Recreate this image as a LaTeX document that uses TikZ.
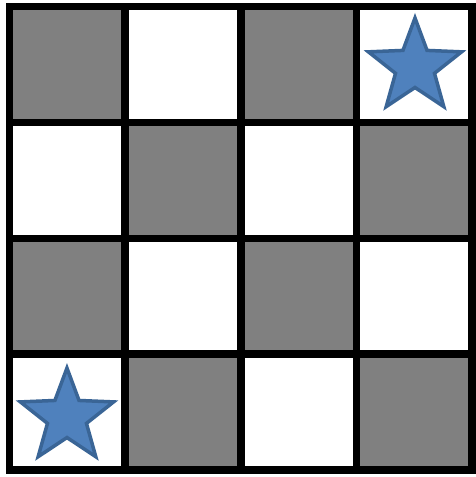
\documentclass[tikz,border=0pt]{standalone}
\usetikzlibrary{shapes.geometric}
\definecolor{cellgray}{HTML}{808080}
\definecolor{starfill}{HTML}{4F81BD}
\definecolor{starline}{HTML}{3A6596}
\tikzset{
  graycell/.style={fill=cellgray, draw=none},
  gridline/.style={draw=black, line width=7.5pt, line join=miter, line cap=rect},
  starmark/.style={fill=starfill, draw=starline, line width=3.5pt, line join=miter}
}
\newcommand{\mystar}[1]{%
  \path[starmark] #1 +(90:49pt)
    -- +(126:20.5pt) -- +(162:49pt) -- +(198:20.5pt) -- +(234:49pt)
    -- +(270:20.5pt) -- +(306:49pt) -- +(342:20.5pt) -- +(18:49pt)
    -- +(54:20.5pt) -- cycle;}
\begin{document}
\begin{tikzpicture}
\fill[white] (0,0) rectangle (475pt,-477pt);
\useasboundingbox (0,0) rectangle (475pt,-477pt);
\begin{scope}[shift={(9.5pt,-6.5pt)}, x=115.625pt, y=-115.875pt]
  % gray cells
  \foreach \i in {0,...,3}{
    \foreach \j in {0,...,3}{
      \pgfmathtruncatemacro{\s}{mod(\i+\j,2)}
      \ifnum\s=0
        \path[graycell] (\i,\j) rectangle ++(1,1);
      \fi
    }
  }
  % stars
  \coordinate (s1) at (3.507,0.522);
  \coordinate (s2) at (0.497,3.543);
  \mystar{(s1)}
  \mystar{(s2)}
  % grid lines
  \foreach \k in {1,2,3}{
    \draw[gridline] (\k,0) -- (\k,4);
    \draw[gridline] (0,\k) -- (4,\k);
  }
  \draw[gridline] (0,0) rectangle (4,4);
\end{scope}
\end{tikzpicture}
\end{document}
